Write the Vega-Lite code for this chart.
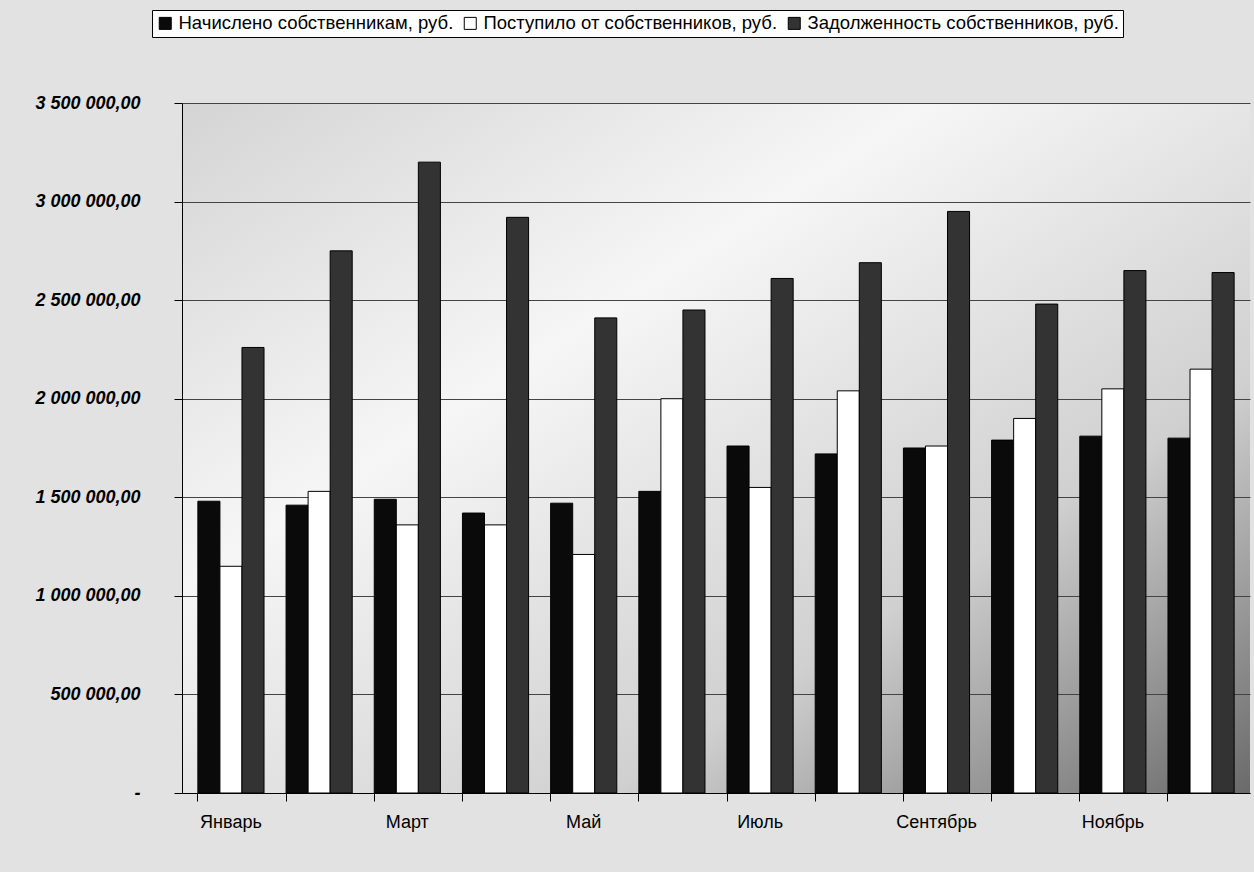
{
  "$schema": "https://vega.github.io/schema/vega-lite/v6.json",
  "width": 1068,
  "height": 690,
  "autosize": {"type": "none"},
  "padding": {"left": 182, "top": 103, "right": 4, "bottom": 79},
  "background": "#e2e2e2",
  "config": {
    "locale": {"number": {"decimal": ",", "thousands": " ", "grouping": [3], "currency": ["", ""]}},
    "view": {"stroke": null, "fill": {"gradient": "linear", "x1": 0, "y1": 0, "x2": 1, "y2": 1, "stops": [{"offset": 0, "color": "#d4d4d4"}, {"offset": 0.35, "color": "#f6f6f6"}, {"offset": 0.7, "color": "#d0d0d0"}, {"offset": 1, "color": "#6a6a6a"}]}},
    "font": "Liberation Sans"
  },
  "data": {"values": [
    {"month": "Январь", "series": "Начислено собственникам, руб.", "value": 1480000},
    {"month": "Январь", "series": "Поступило от собственников, руб.", "value": 1150000},
    {"month": "Январь", "series": "Задолженность собственников, руб.", "value": 2260000},
    {"month": "Февраль", "series": "Начислено собственникам, руб.", "value": 1460000},
    {"month": "Февраль", "series": "Поступило от собственников, руб.", "value": 1530000},
    {"month": "Февраль", "series": "Задолженность собственников, руб.", "value": 2750000},
    {"month": "Март", "series": "Начислено собственникам, руб.", "value": 1490000},
    {"month": "Март", "series": "Поступило от собственников, руб.", "value": 1360000},
    {"month": "Март", "series": "Задолженность собственников, руб.", "value": 3200000},
    {"month": "Апрель", "series": "Начислено собственникам, руб.", "value": 1420000},
    {"month": "Апрель", "series": "Поступило от собственников, руб.", "value": 1360000},
    {"month": "Апрель", "series": "Задолженность собственников, руб.", "value": 2920000},
    {"month": "Май", "series": "Начислено собственникам, руб.", "value": 1470000},
    {"month": "Май", "series": "Поступило от собственников, руб.", "value": 1210000},
    {"month": "Май", "series": "Задолженность собственников, руб.", "value": 2410000},
    {"month": "Июнь", "series": "Начислено собственникам, руб.", "value": 1530000},
    {"month": "Июнь", "series": "Поступило от собственников, руб.", "value": 2000000},
    {"month": "Июнь", "series": "Задолженность собственников, руб.", "value": 2450000},
    {"month": "Июль", "series": "Начислено собственникам, руб.", "value": 1760000},
    {"month": "Июль", "series": "Поступило от собственников, руб.", "value": 1550000},
    {"month": "Июль", "series": "Задолженность собственников, руб.", "value": 2610000},
    {"month": "Август", "series": "Начислено собственникам, руб.", "value": 1720000},
    {"month": "Август", "series": "Поступило от собственников, руб.", "value": 2040000},
    {"month": "Август", "series": "Задолженность собственников, руб.", "value": 2690000},
    {"month": "Сентябрь", "series": "Начислено собственникам, руб.", "value": 1750000},
    {"month": "Сентябрь", "series": "Поступило от собственников, руб.", "value": 1760000},
    {"month": "Сентябрь", "series": "Задолженность собственников, руб.", "value": 2950000},
    {"month": "Октябрь", "series": "Начислено собственникам, руб.", "value": 1790000},
    {"month": "Октябрь", "series": "Поступило от собственников, руб.", "value": 1900000},
    {"month": "Октябрь", "series": "Задолженность собственников, руб.", "value": 2480000},
    {"month": "Ноябрь", "series": "Начислено собственникам, руб.", "value": 1810000},
    {"month": "Ноябрь", "series": "Поступило от собственников, руб.", "value": 2050000},
    {"month": "Ноябрь", "series": "Задолженность собственников, руб.", "value": 2650000},
    {"month": "Декабрь", "series": "Начислено собственникам, руб.", "value": 1800000},
    {"month": "Декабрь", "series": "Поступило от собственников, руб.", "value": 2150000},
    {"month": "Декабрь", "series": "Задолженность собственников, руб.", "value": 2640000}
  ]},
  "mark": {"type": "bar", "stroke": "#000000", "strokeWidth": 1},
  "encoding": {
    "x": {
      "field": "month", "type": "nominal",
      "sort": ["Январь", "Февраль", "Март", "Апрель", "Май", "Июнь", "Июль", "Август", "Сентябрь", "Октябрь", "Ноябрь", "Декабрь"],
      "scale": {"paddingInner": 0.25, "paddingOuter": 0.18},
      "axis": {
        "title": null, "labelAngle": 0, "bandPosition": 0, "ticks": true, "tickSize": 8, "tickColor": "#000", "domainColor": "#000",
        "labelExpr": "indexof(['Январь','Март','Май','Июль','Сентябрь','Ноябрь'], datum.value) >= 0 ? datum.value : ''",
        "labelFontSize": 18, "labelColor": "#000", "labelPadding": 12
      }
    },
    "xOffset": {
      "field": "series", "type": "nominal",
      "sort": ["Начислено собственникам, руб.", "Поступило от собственников, руб.", "Задолженность собственников, руб."],
      "scale": {"paddingInner": 0.0}
    },
    "y": {
      "field": "value", "type": "quantitative",
      "scale": {"domain": [0, 3500000], "nice": false},
      "axis": {
        "title": null, "values": [0, 500000, 1000000, 1500000, 2000000, 2500000, 3000000, 3500000],
        "format": ",.2f", "labelExpr": "datum.value == 0 ? '-' : datum.label",
        "labelFontSize": 18, "labelFontWeight": "bold", "labelFontStyle": "italic", "labelColor": "#000",
        "labelPadding": 34, "tickSize": 8, "tickColor": "#000", "domainColor": "#000",
        "grid": true, "gridColor": "#444", "gridWidth": 1
      }
    },
    "color": {
      "field": "series", "type": "nominal",
      "sort": ["Начислено собственникам, руб.", "Поступило от собственников, руб.", "Задолженность собственников, руб."],
      "scale": {"range": ["#0a0a0a", "#ffffff", "#333333"]},
      "legend": {
        "title": null, "orient": "none", "legendX": -30, "legendY": -93, "direction": "horizontal",
        "symbolType": "square", "symbolSize": 144, "symbolStrokeColor": "#000", "symbolStrokeWidth": 1,
        "labelFontSize": 18.5, "labelColor": "#000", "columnPadding": 7, "labelOffset": 4, "symbolOffset": 0,
        "fillColor": "#ffffff", "strokeColor": "#000", "padding": 4, "labelLimit": 500
      }
    }
  }
}
